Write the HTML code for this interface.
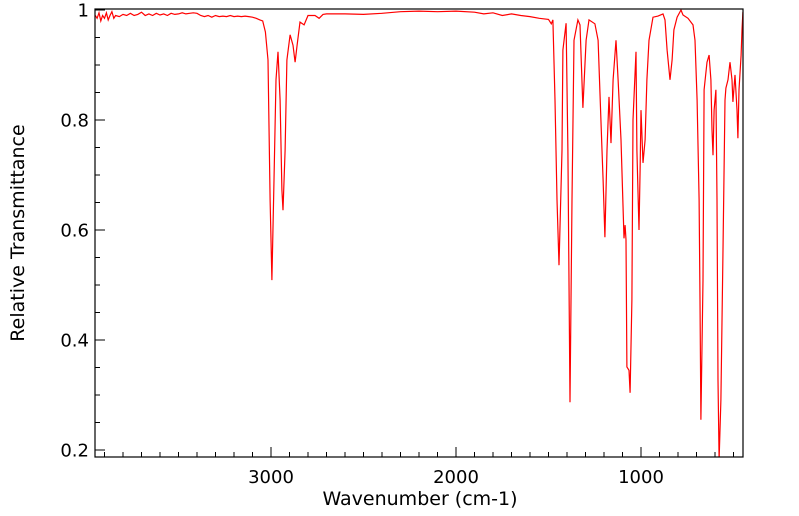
<!DOCTYPE html>
<html><head><meta charset="utf-8"><style>
html,body{margin:0;padding:0;background:#fff;}
svg{display:block;font-family:"DejaVu Sans","Liberation Sans",sans-serif;}
</style></head><body>
<svg id="chart" width="799" height="516"></svg>
<script>
const wavenumbers = [3950,3940,3930,3920,3910,3900,3890,3880,3870,3860,3850,3840,3820,3800,3780,3760,3740,3720,3700,3680,3660,3640,3620,3600,3580,3560,3540,3520,3500,3480,3460,3440,3420,3400,3380,3360,3340,3320,3300,3280,3260,3240,3220,3200,3180,3160,3140,3120,3100,3080,3060,3045,3030,
3016,3005,2995,2984,2973,2962,2951,2941,2935,2924,2914,2897,2881,2870,2859,2843,2821,2800,2762,2740,2719,
2700,2600,2500,2400,2300,2200,2100,2000,1900,1850,1800,1750,1700,1650,1600,1550,1500,1485,
1476,1465,1454,1443,1427,1422,1405,1395,1384,1373,1362,1341,1330,1314,1297,1281,1249,1232,1211,1205,1195,1184,1173,1162,1151,1135,1124,1108,1092,1086,1081,1076,1065,1059,1049,1043,1027,1022,1011,1005,1000,989,978,968,957,935,908,881,870,859,843,832,822,805,784,773,746,719,708,697,686,681,676,665,659,643,632,622,616,611,605,595,589,584,578,568,557,546,541,530,519,508,503,492,481,476,470,459,454,449];
const transmittance = [0.99,0.985,0.995,0.98,0.99,0.985,0.995,0.982,0.99,0.997,0.985,0.99,0.988,0.992,0.99,0.994,0.99,0.992,0.996,0.99,0.993,0.99,0.994,0.991,0.993,0.99,0.994,0.992,0.993,0.995,0.993,0.994,0.995,0.994,0.99,0.988,0.99,0.987,0.99,0.988,0.989,0.988,0.99,0.988,0.989,0.988,0.989,0.988,0.987,0.985,0.982,0.98,0.96,
0.909,0.655,0.509,0.691,0.873,0.924,0.836,0.673,0.636,0.745,0.909,0.955,0.936,0.905,0.936,0.978,0.973,0.99,0.99,0.985,0.992,
0.993,0.993,0.992,0.994,0.997,0.998,0.997,0.998,0.996,0.993,0.995,0.99,0.993,0.99,0.988,0.985,0.983,0.975,
0.982,0.836,0.655,0.536,0.745,0.927,0.976,0.745,0.287,0.655,0.945,0.982,0.973,0.822,0.945,0.982,0.975,0.945,0.745,0.691,0.587,0.745,0.842,0.758,0.873,0.945,0.873,0.764,0.585,0.609,0.582,0.351,0.345,0.304,0.473,0.8,0.924,0.745,0.6,0.709,0.818,0.722,0.764,0.873,0.945,0.987,0.989,0.993,0.982,0.927,0.873,0.909,0.964,0.987,1.0,0.991,0.985,0.973,0.945,0.836,0.655,0.473,0.255,0.509,0.855,0.905,0.918,0.873,0.782,0.736,0.818,0.855,0.655,0.327,0.182,0.291,0.564,0.836,0.858,0.873,0.905,0.873,0.833,0.882,0.818,0.767,0.855,0.918,0.964,0.996];
const xTickLabels = [3000,2000,1000];
const yTickLabels = ["0.2","0.4","0.6","0.8","1"];
const yTickValues = [0.2,0.4,0.6,0.8,1];

const NS="http://www.w3.org/2000/svg";
const svg=document.getElementById('chart');
const L=95,R=743,T=9,B=457;
const X=w=>641+(1000-w)*0.185;
const Y=v=>10+(1-v)*550;
function el(t,a){const e=document.createElementNS(NS,t);for(const k in a)e.setAttribute(k,a[k]);svg.appendChild(e);return e;}

const defs=el('defs',{});
const cp=document.createElementNS(NS,'clipPath');cp.setAttribute('id','pc');
const cr=document.createElementNS(NS,'rect');cr.setAttribute('x',L);cr.setAttribute('y',T);cr.setAttribute('width',R-L);cr.setAttribute('height',B-T);
cp.appendChild(cr);defs.appendChild(cp);

let d='';
wavenumbers.forEach((w,i)=>{d+=(i?'L':'M')+X(w).toFixed(1)+' '+Y(transmittance[i]).toFixed(1);});
const line=el('path',{d:d,fill:'none',stroke:'#ff0000','stroke-width':1.2,'clip-path':'url(#pc)'});



const frame=el('rect',{x:L,y:T,width:R-L,height:B-T,fill:'none',stroke:'#000','stroke-width':1.2});



for(let w=500;w<=3900;w+=100){
  const x=X(w); if(x<L||x>R) continue;
  const major=w%1000===0;
  const t=el('line',{x1:x,x2:x,y1:B,y2:B-(major?10:5),stroke:'#000','stroke-width':1});
  
  
}
xTickLabels.forEach(w=>{
  const t=el('text',{x:X(w),y:483,'text-anchor':'middle','font-size':18,fill:'#000'});
  t.textContent=w;
  
  
});
for(let k=4;k<=20;k++){
  const v=k*0.05; const y=Y(v); if(y<T-0.5||y>B) continue;
  const major=k%4===0;
  const t=el('line',{x1:L,x2:L+(major?10:5),y1:y,y2:y,stroke:'#000','stroke-width':1});
  
  
}
yTickValues.forEach((v,i)=>{
  const t=el('text',{x:89,y:Y(v)+6.5,'text-anchor':'end','font-size':18,fill:'#000'});
  t.textContent=yTickLabels[i];
  
  
});
const xt=el('text',{x:420,y:505,'text-anchor':'middle','font-size':19,fill:'#000'});
xt.textContent='Wavenumber (cm-1)';


const yt=el('text',{x:0,y:0,'text-anchor':'middle','font-size':19,fill:'#000',transform:'translate(24,233) rotate(-90)'});
yt.textContent='Relative Transmittance';


</script>
</body></html>
